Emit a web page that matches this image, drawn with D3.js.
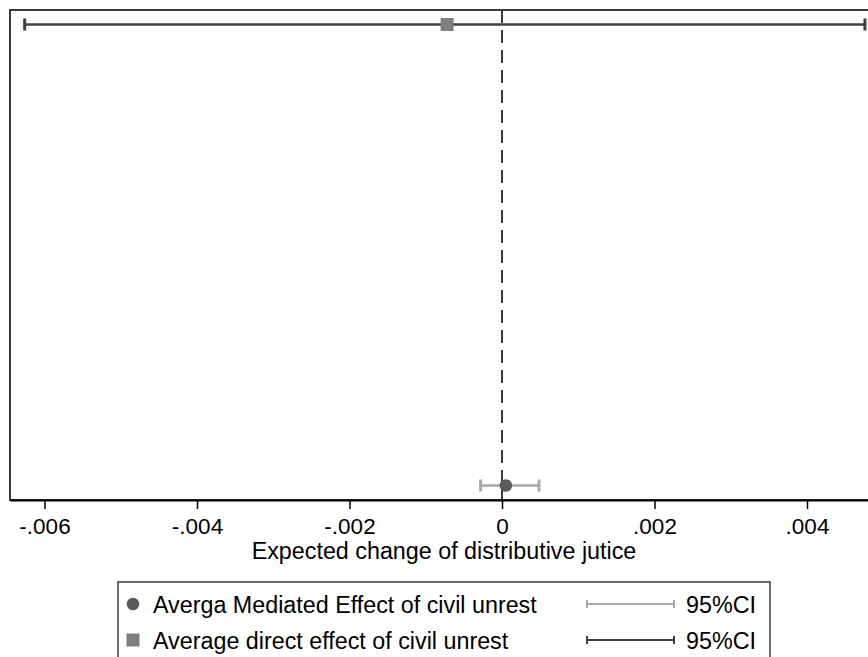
<!DOCTYPE html>
<html>
<head>
<meta charset="utf-8">
<script src="https://cdnjs.cloudflare.com/ajax/libs/d3/7.8.5/d3.min.js"></script>
<style>
  body { margin: 0; background: #fff; }
  svg { display: block; font-family: "Liberation Sans", Arial, Helvetica, sans-serif; }
</style>
</head>
<body>
<div id="chart"></div>
<script>
// data
var effects = ["Average direct effect of civil unrest", "Averga Mediated Effect of civil unrest"];
var estimates = [-0.00072, 0.00005];
var ciLow = [-0.00626, -0.00028];
var ciHigh = [0.00476, 0.000485];
var xTicks = [-0.006, -0.004, -0.002, 0, 0.002, 0.004];
var xTickLabels = ["-.006", "-.004", "-.002", "0", ".002", ".004"];
var xTitle = "Expected change of distributive jutice";
var legendLabels = ["Averga Mediated Effect of civil unrest", "Average direct effect of civil unrest"];
var ciLabel = "95%CI";

var width = 868, height = 657;
var plot = {left: 10, top: 10, right: 878, bottom: 500};

var svg = d3.select("#chart").append("svg")
  .attr("width", width)
  .attr("height", height);

// 0 sits at x=502, .004 at x=807
var x = d3.scaleLinear()
  .domain([(plot.left - 502) / 76250, (plot.right - 502) / 76250])
  .range([plot.left, plot.right]);

var y = d3.scalePoint()
  .domain(effects)
  .range([24.5, 485.5]);

var fill = ["#7f7f7f", "#5a5a5a"];
var ciColor = ["#3f3f3f", "#a8a8a8"];

// plot region border
svg.append("rect")
  .attr("x", plot.left).attr("y", plot.top)
  .attr("width", plot.right - plot.left).attr("height", plot.bottom - plot.top)
  .attr("fill", "none")
  .attr("stroke", "#3a3a3a")
  .attr("stroke-width", 2);

// zero reference line
svg.append("line")
  .attr("x1", x(0)).attr("x2", x(0))
  .attr("y1", plot.top).attr("y2", plot.bottom)
  .attr("stroke", "#3a3a3a")
  .attr("stroke-width", 2)
  .attr("stroke-dasharray", "13,7");

// x axis
var xAxis = d3.axisBottom(x)
  .tickValues(xTicks)
  .tickFormat(function(d, i) { return xTickLabels[i]; })
  .tickSize(9)
  .tickPadding(9)
  .tickSizeOuter(0);

var gx = svg.append("g")
  .attr("transform", "translate(0," + plot.bottom + ")")
  .call(xAxis);
gx.select(".domain").attr("stroke", "#000").attr("stroke-width", 2);
gx.selectAll(".tick line").attr("stroke", "#000").attr("stroke-width", 1.5);
gx.selectAll(".tick text").attr("fill", "#000").attr("font-size", 22.5)
  .attr("font-family", "'Liberation Sans', Arial, sans-serif");

svg.append("text")
  .attr("x", (plot.left + plot.right) / 2)
  .attr("y", 559)
  .attr("text-anchor", "middle")
  .attr("font-size", 23.3)
  .text(xTitle);

// confidence intervals
var rows = effects.map(function(e, i) {
  return {name: e, est: estimates[i], lo: ciLow[i], hi: ciHigh[i], i: i};
});

var ci = svg.selectAll(".ci").data(rows).enter().append("g").attr("class", "ci");
ci.append("line")
  .attr("x1", function(d) { return x(d.lo); })
  .attr("x2", function(d) { return x(d.hi); })
  .attr("y1", function(d) { return y(d.name); })
  .attr("y2", function(d) { return y(d.name); })
  .attr("stroke", function(d) { return ciColor[d.i]; })
  .attr("stroke-width", 2.5);
[function(d) { return x(d.lo); }, function(d) { return x(d.hi); }].forEach(function(fx) {
  ci.append("line")
    .attr("x1", fx).attr("x2", fx)
    .attr("y1", function(d) { return y(d.name) - 6; })
    .attr("y2", function(d) { return y(d.name) + 6; })
    .attr("stroke", function(d) { return ciColor[d.i]; })
    .attr("stroke-width", 3);
});

// point estimates
svg.append("rect")
  .attr("x", x(rows[0].est) - 6.5)
  .attr("y", y(rows[0].name) - 6.5)
  .attr("width", 13).attr("height", 13)
  .attr("fill", fill[0]);
svg.append("circle")
  .attr("cx", x(rows[1].est))
  .attr("cy", y(rows[1].name))
  .attr("r", 6.3)
  .attr("fill", fill[1]);

// legend
var legend = svg.append("g");
legend.append("rect")
  .attr("x", 118).attr("y", 582)
  .attr("width", 652).attr("height", 100)
  .attr("fill", "#fff")
  .attr("stroke", "#3a3a3a")
  .attr("stroke-width", 1.5);

var rowY = [604, 640];
legend.append("circle").attr("cx", 133).attr("cy", rowY[0]).attr("r", 6.3).attr("fill", fill[1]);
legend.append("rect").attr("x", 126.5).attr("y", rowY[1] - 6.5).attr("width", 13).attr("height", 13).attr("fill", fill[0]);

legendLabels.forEach(function(t, i) {
  legend.append("text")
    .attr("x", 153).attr("y", rowY[i] + 8.5)
    .attr("font-size", 23.3)
    .text(t);
  var c = i === 0 ? ciColor[1] : ciColor[0];
  var g = legend.append("g").attr("stroke", c).attr("stroke-width", 2);
  g.append("line").attr("x1", 587).attr("x2", 674).attr("y1", rowY[i]).attr("y2", rowY[i]);
  g.append("line").attr("x1", 587).attr("x2", 587).attr("y1", rowY[i] - 4).attr("y2", rowY[i] + 4);
  g.append("line").attr("x1", 674).attr("x2", 674).attr("y1", rowY[i] - 4).attr("y2", rowY[i] + 4);
  legend.append("text")
    .attr("x", 686).attr("y", rowY[i] + 8.5)
    .attr("font-size", 23.3)
    .text(ciLabel);
});
</script>
</body>
</html>
